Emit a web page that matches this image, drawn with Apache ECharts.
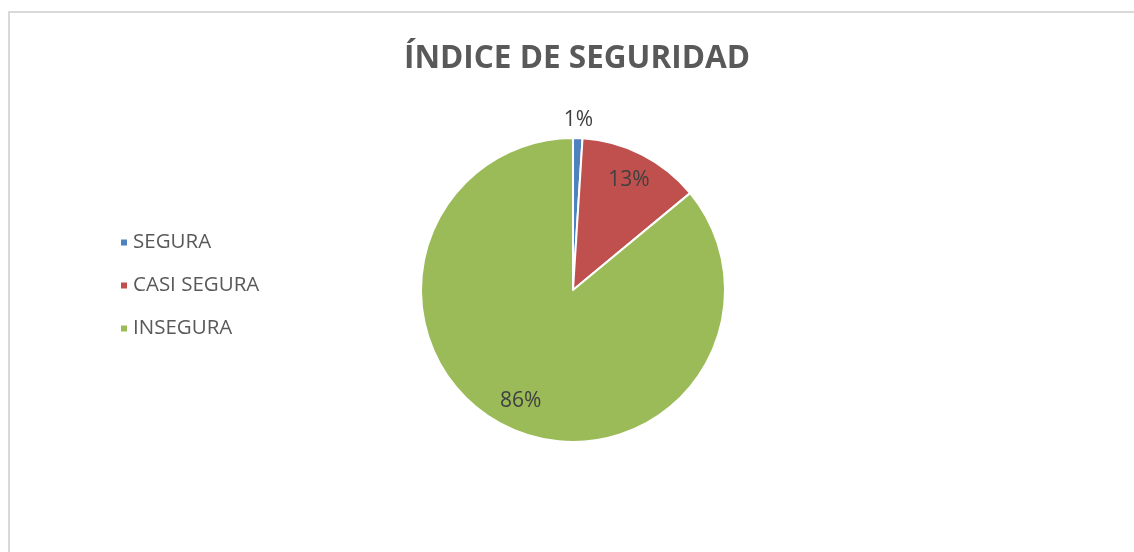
<!DOCTYPE html>
<html>
<head>
<meta charset="utf-8">
<script src="https://cdn.jsdelivr.net/npm/echarts@6/dist/echarts.min.js"></script>
<style>
  html, body { margin: 0; padding: 0; background: #fff; }
  #chart { width: 1134px; height: 552px; }
</style>
</head>
<body>
<div id="chart"></div>
<script>
  // datos
  var categorias = ['SEGURA', 'CASI SEGURA', 'INSEGURA'];
  var valores = [1, 13, 86];
  var colores = ['#4F81BD', '#C0504D', '#9BBB59'];

  var datos = categorias.map(function (c, i) {
    return { name: c, value: valores[i], itemStyle: { color: colores[i] } };
  });

  var fuente = '"Open Sans", "Noto Sans", sans-serif';
  var centro = [573, 290];

  // series de etiquetas (transparentes), solo para colocar los textos
  function etiquetas(radio, mostrar) {
    return {
      type: 'pie',
      radius: radio,
      center: centro,
      startAngle: 90,
      silent: true,
      legendHoverLink: false,
      itemStyle: { color: 'transparent', borderWidth: 0 },
      emphasis: { disabled: true },
      data: categorias.map(function (c, i) {
        return {
          name: c,
          value: valores[i],
          itemStyle: { color: 'transparent' },
          label: { show: mostrar[i] }
        };
      }),
      label: {
        position: 'inside',
        formatter: '{d}%',
        color: '#404040',
        fontSize: 21,
        fontFamily: fuente
      },
      labelLine: { show: false }
    };
  }

  var myChart = echarts.init(document.getElementById('chart'));
  myChart.setOption({
    backgroundColor: '#FFFFFF',
    animation: false,
    title: {
      text: 'ÍNDICE DE SEGURIDAD',
      left: 399,
      top: 38,
      textStyle: {
        color: '#595959',
        fontSize: 31.5,
        fontWeight: 'bold',
        fontFamily: fuente
      }
    },
    graphic: [{
      type: 'rect',
      shape: { x: 9, y: 12, width: 1300, height: 700 },
      style: { fill: 'none', stroke: '#D9D9D9', lineWidth: 2 },
      silent: true
    }],
    legend: {
      orient: 'vertical',
      left: 114,
      top: 227,
      itemWidth: 8,
      itemHeight: 8,
      itemGap: 22,
      icon: 'rect',
      data: categorias,
      textStyle: {
        color: '#595959',
        fontSize: 20.5,
        fontFamily: fuente
      }
    },
    series: [
      {
        name: 'indice',
        type: 'pie',
        radius: [0, 152],
        center: centro,
        startAngle: 90,
        data: datos,
        itemStyle: { borderColor: '#FFFFFF', borderWidth: 2 },
        label: { show: false },
        labelLine: { show: false }
      },
      etiquetas([88, 152], [false, true, true]),
      etiquetas([155, 179], [true, false, false])
    ]
  });
</script>
</body>
</html>
